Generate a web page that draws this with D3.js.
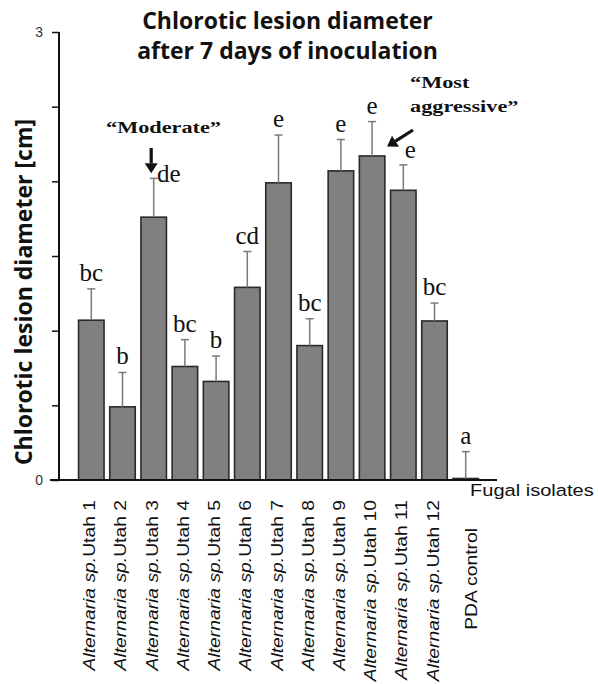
<!DOCTYPE html>
<html>
<head>
<meta charset="utf-8">
<script src="https://cdn.jsdelivr.net/npm/d3@7"></script>
<style>
  html, body { margin: 0; padding: 0; background: #fff; }
  svg { display: block; }
</style>
</head>
<body>
<script>
// ---- data ----
const categories = ["Utah 1","Utah 2","Utah 3","Utah 4","Utah 5","Utah 6","Utah 7","Utah 8","Utah 9","Utah 10","Utah 11","Utah 12","PDA control"];
const means      = [1.07, 0.49, 1.76, 0.76, 0.66, 1.29, 1.99, 0.90, 2.07, 2.17, 1.94, 1.065, 0.01];
const errors     = [0.21, 0.23, 0.26, 0.18, 0.17, 0.24, 0.32, 0.18, 0.21, 0.23, 0.17, 0.12, 0.18];
const groups     = ["bc","b","de","bc","b","cd","e","bc","e","e","e","bc","a"];
const yTicks      = [0, 0.5, 1, 1.5, 2, 2.5, 3];
const yTickLabels = ["0", "", "", "", "", "", "3"];
const titleLines  = ["Chlorotic lesion diameter", "after 7 days of inoculation"];
const yAxisTitle  = "Chlorotic lesion diameter [cm]";
const xAxisTitle  = "Fugal isolates";
const genusPrefix = "Alternaria sp.";
const annModerate = "\u201CModerate\u201D";
const annAggressive = ["\u201CMost", "aggressive\u201D"];

const W = 598, H = 684;
const svg = d3.select("body").append("svg").attr("width", W).attr("height", H);

const x = d3.scaleBand().domain(categories).range([72, 485]).paddingInner(0.183).paddingOuter(0.21);
const y = d3.scaleLinear().domain([0, 3]).range([480, 32]);
const bw = x.bandwidth();
const cx = c => x(c) + bw / 2;

// title
svg.append("g").selectAll("text").data(titleLines).join("text")
  .attr("x", 287.5).attr("y", (d, i) => 29 + i * 29.5)
  .attr("text-anchor", "middle")
  .attr("font-family", "'Open Sans', sans-serif").attr("font-weight", "bold")
  .attr("font-size", 23).attr("fill", "#111")
  .text(d => d);

// y axis title
svg.append("text")
  .attr("transform", "translate(32,292) rotate(-90)")
  .attr("text-anchor", "middle")
  .attr("font-family", "'Open Sans', sans-serif").attr("font-weight", "bold")
  .attr("font-size", 23).attr("fill", "#111")
  .text(yAxisTitle);

// y axis
const yAxis = d3.axisLeft(y).tickValues(yTicks).tickSize(7).tickPadding(9)
  .tickFormat((d, i) => yTickLabels[i]);
const gy = svg.append("g").attr("transform", "translate(59,0)").call(yAxis);
gy.select(".domain").attr("stroke", "#111").attr("stroke-width", 2).attr("d", "M0,32V480");
gy.selectAll(".tick line").attr("stroke", "#111").attr("stroke-width", 1.5);
gy.selectAll(".tick text").attr("font-family", "'Liberation Sans', Arial, sans-serif")
  .attr("font-size", 14).attr("fill", "#333");

// bars
svg.append("g").selectAll("rect").data(categories).join("rect")
  .attr("x", d => x(d)).attr("width", bw)
  .attr("y", (d, i) => y(means[i]))
  .attr("height", (d, i) => Math.max(y(0) - y(means[i]), 0.5))
  .attr("fill", "#808080").attr("stroke", "#2a2a2a").attr("stroke-width", 1.6);

// error bars
const eg = svg.append("g").attr("stroke", "#7a7a7a").attr("stroke-width", 1.5);
categories.forEach((c, i) => {
  const top = y(means[i] + errors[i]);
  eg.append("line").attr("x1", cx(c)).attr("x2", cx(c)).attr("y1", y(means[i])).attr("y2", top);
  eg.append("line").attr("x1", cx(c) - 4).attr("x2", cx(c) + 4).attr("y1", top).attr("y2", top);
});

// x axis line
svg.append("line").attr("x1", 50).attr("x2", 497).attr("y1", y(0)).attr("y2", y(0))
  .attr("stroke", "#111").attr("stroke-width", 2);

// significance letters (shifted where annotation arrows sit)
const shift = { 2: [15, 4], 10: [7, -7] };
svg.append("g").selectAll("text").data(groups).join("text")
  .attr("x", (d, i) => cx(categories[i]) + (shift[i] ? shift[i][0] : 0))
  .attr("y", (d, i) => y(means[i] + errors[i]) + (shift[i] ? shift[i][1] : -8))
  .attr("text-anchor", "middle")
  .attr("font-family", "'Liberation Serif', 'Times New Roman', serif")
  .attr("font-size", 25).attr("fill", "#111")
  .text(d => d);

// x tick labels (rotated)
const lg = svg.append("g");
categories.forEach((c, i) => {
  const isCtl = !c.startsWith("Utah");
  const tx = cx(c) + (isCtl ? 11 : 4);
  const ty = isCtl ? 528 : 500;
  const t = lg.append("text")
    .attr("transform", `translate(${tx},${ty}) rotate(-90) scale(1.17,1)`)
    .attr("text-anchor", "end")
    .attr("font-family", "'Liberation Sans', Arial, sans-serif")
    .attr("font-size", 16.5).attr("fill", "#111");
  if (isCtl) {
    t.text(c);
  } else {
    t.append("tspan").attr("font-style", "italic").text(genusPrefix);
    t.append("tspan").text(c);
  }
});

// x axis title
svg.append("text")
  .attr("transform", "translate(470,496) scale(1.18,1)")
  .attr("font-family", "'Liberation Sans', Arial, sans-serif")
  .attr("font-size", 17).attr("fill", "#111")
  .text(xAxisTitle);

// annotations
const serifBold = "'Liberation Serif', 'Times New Roman', serif";
const c3 = categories[2], c10 = categories[9];
svg.append("text")
  .attr("transform", "translate(163.5,133) scale(1.35,1)")
  .attr("text-anchor", "middle").attr("font-family", serifBold).attr("font-weight", "bold")
  .attr("font-size", 16.5).attr("fill", "#111").text(annModerate);
svg.append("g").selectAll("text").data(annAggressive).join("text")
  .attr("transform", (d, i) => `translate(410,${88 + i * 24}) scale(1.35,1)`)
  .attr("font-family", serifBold).attr("font-weight", "bold")
  .attr("font-size", 16.5).attr("fill", "#111").text(d => d);

// arrows
function arrow(x1, y1, x2, y2) {
  const ang = Math.atan2(y2 - y1, x2 - x1);
  const hl = 10, hw = 6.5;
  const bx = x2 - hl * Math.cos(ang), by = y2 - hl * Math.sin(ang);
  svg.append("line").attr("x1", x1).attr("y1", y1).attr("x2", bx).attr("y2", by)
    .attr("stroke", "#111").attr("stroke-width", 3.2);
  const px = -Math.sin(ang), py = Math.cos(ang);
  svg.append("path")
    .attr("d", `M${x2},${y2}L${bx + px * hw},${by + py * hw}L${bx - px * hw},${by - py * hw}Z`)
    .attr("fill", "#111");
}
const tip3 = y(means[2] + errors[2]) - 5;
arrow(cx(c3) - 2.5, 148, cx(c3) - 2.5, tip3);
arrow(413, 130, cx(c10) + 15, y(means[9] + errors[9]) + 25);
</script>
</body>
</html>
